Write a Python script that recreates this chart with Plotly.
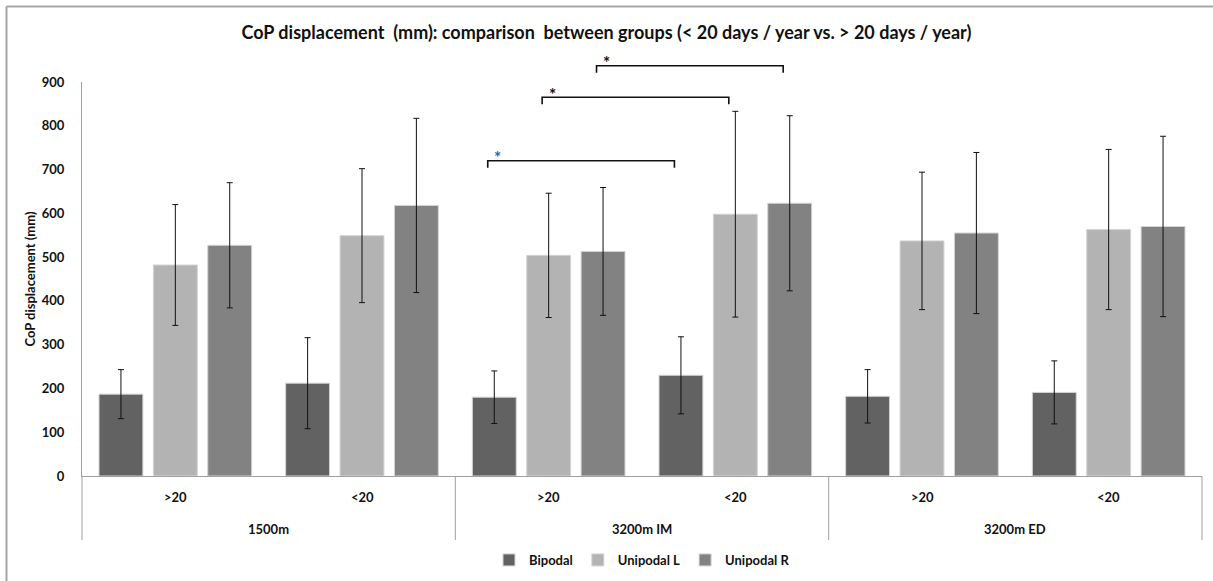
import plotly.graph_objects as go

# ---- data ----
groups = ["1500m", "1500m", "3200m IM", "3200m IM", "3200m ED", "3200m ED"]
subgroups = [">20", "<20", ">20", "<20", ">20", "<20"]
group_names = ["1500m", "3200m IM", "3200m ED"]
series_names = ["Bipodal", "Unipodal L", "Unipodal R"]
bipodal = [187, 212, 180, 230, 182, 191]
bipodal_sd = [56, 104, 60, 88, 61, 72]
unipodal_l = [482, 549, 504, 598, 537, 563]
unipodal_l_sd = [138, 153, 142, 235, 157, 183]
unipodal_r = [527, 618, 513, 623, 555, 570]
unipodal_r_sd = [143, 199, 146, 200, 184, 206]
colors = ["#626262", "#b3b3b3", "#828282"]

# significance brackets
sig_series = [0, 1, 2]
sig_left = [2, 2, 2]
sig_right = [3, 3, 3]
sig_level = [720, 865, 937]
sig_star_color = ["#3b5f9c", "#111111", "#111111"]

title_text = "CoP displacement  (mm): comparison  between groups (< 20 days / year vs. > 20 days / year)"
y_title = "CoP displacement (mm)"
y_max = 900

W, H = 1213, 581
ML, MR, MT, MB = 82, 11, 82, 105
font_family = "Lato, 'Open Sans', sans-serif"
pw = W - ML - MR
ph = H - MT - MB

fig = go.Figure()
values = [bipodal, unipodal_l, unipodal_r]
sds = [bipodal_sd, unipodal_l_sd, unipodal_r_sd]
for name, v, sd, c in zip(series_names, values, sds, colors):
    fig.add_trace(go.Bar(
        name=name,
        x=[groups, subgroups],
        y=v,
        marker=dict(color=c, line=dict(color="#d4d4d4", width=1)),
        error_y=dict(type="data", array=sd, visible=True, color="#111111", thickness=1, width=3),
    ))

bargap = 0.126
bargroupgap = 0.193
ncat = len(subgroups)
slot = (1 - bargap) / len(series_names)

shapes = []
annotations = []
for s, li, ri, lvl, sc in zip(sig_series, sig_left, sig_right, sig_level, sig_star_color):
    off = (s - 1) * slot - 0.035
    x0 = (li + 0.5 + off) / ncat
    x1 = (ri + 0.5 + off) / ncat
    y = lvl / y_max
    d = 16 / y_max
    shapes.append(dict(type="path", xref="paper", yref="paper",
                       path=f"M {x0},{y-d} L {x0},{y} L {x1},{y} L {x1},{y-d}",
                       line=dict(color="#111111", width=1.6)))
    annotations.append(dict(xref="paper", yref="paper", x=x0 + 10 / pw, y=y + 3 / ph,
                            text="<b>*</b>", showarrow=False, xanchor="center", yanchor="middle",
                            font=dict(family=font_family, size=17, color=sc)))

# hierarchical category labels and dividers
lab_font = dict(family=font_family, size=13, color="#111111", weight="bold")
for i, s in enumerate(subgroups):
    annotations.append(dict(xref="paper", yref="paper", x=(i + 0.5) / ncat, y=-21 / ph,
                            text=s, showarrow=False, xanchor="center", yanchor="middle", font=lab_font))
for g, name in enumerate(group_names):
    annotations.append(dict(xref="paper", yref="paper", x=(g + 0.5) / len(group_names), y=-53 / ph,
                            text=name, showarrow=False, xanchor="center", yanchor="middle", font=lab_font))
for g in range(len(group_names) + 1):
    xd = g / len(group_names)
    shapes.append(dict(type="line", xref="paper", yref="paper", x0=xd, x1=xd, y0=0, y1=-64 / ph,
                       line=dict(color="#a0a0a0", width=1)))

# outer frame (top and left edges visible)
fx0 = (6.5 - ML) / pw
fy1 = (MT + ph - 6.5) / ph
shapes.append(dict(type="line", xref="paper", yref="paper", x0=fx0, x1=(W - ML) / pw + 0.01, y0=fy1, y1=fy1,
                   line=dict(color="#a6a6a6", width=2)))
shapes.append(dict(type="line", xref="paper", yref="paper", x0=fx0, x1=fx0, y0=-(MB + 5) / ph, y1=fy1,
                   line=dict(color="#a6a6a6", width=2)))

fig.update_layout(
    width=W, height=H,
    margin=dict(l=ML, r=MR, t=MT, b=MB, autoexpand=False),
    paper_bgcolor="white", plot_bgcolor="white",
    barmode="group", bargap=bargap, bargroupgap=bargroupgap,
    title=dict(text=f"<b>{title_text}</b>", x=0.5, xanchor="center", y=1 - 33 / H, yanchor="middle",
               font=dict(family=font_family, size=18, color="#111111")),
    font=dict(family=font_family, size=13, color="#111111"),
    showlegend=True,
    legend=dict(orientation="h", x=0.5, xanchor="center", y=-84 / ph, yanchor="middle",
                font=dict(family=font_family, size=13, color="#111111", weight="bold"),
                itemwidth=30, tracegroupgap=0),
    shapes=shapes,
    annotations=annotations,
)
fig.update_xaxes(
    type="multicategory",
    showline=True, linecolor="#a0a0a0", linewidth=1,
    showgrid=False, ticks="",
    showdividers=False, showticklabels=False,
)
fig.update_yaxes(
    range=[0, y_max], dtick=100, tick0=0,
    showline=True, linecolor="#a0a0a0", linewidth=1,
    showgrid=False, zeroline=False, ticks="",
    ticklabelstandoff=14,
    tickfont=dict(family=font_family, size=13, color="#111111", weight="bold"),
    title=dict(text=f"<b>{y_title}</b>", font=dict(family=font_family, size=13, color="#111111"), standoff=3),
)

fig.write_html("out.html")
